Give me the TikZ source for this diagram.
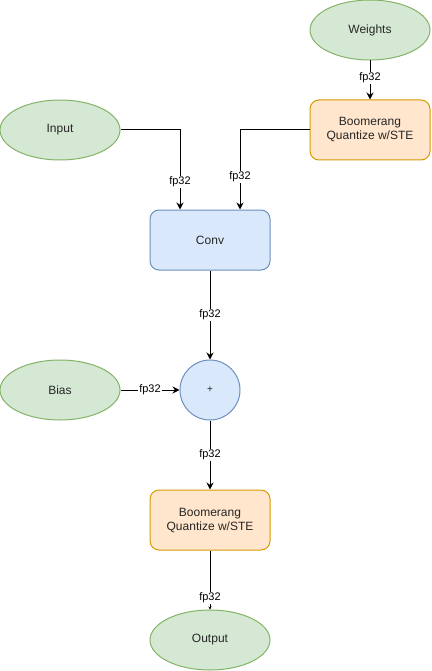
\documentclass[tikz,border=0pt]{standalone}
\usepackage{fontspec}
\setmainfont{Liberation Sans}
\usetikzlibrary{shapes.geometric,arrows.meta}
\definecolor{gfill}{HTML}{D5E8D4}\definecolor{gdraw}{HTML}{82B366}
\definecolor{bfill}{HTML}{DAE8FC}\definecolor{bdraw}{HTML}{6C8EBF}
\definecolor{ofill}{HTML}{FFE6CC}\definecolor{odraw}{HTML}{D79B00}
\begin{document}
\begin{tikzpicture}[x=1pt,y=-1pt,
  every node/.style={font=\fontsize{12}{14}\selectfont, text=black!85},
  ell/.style={ellipse, fill=gfill, draw=gdraw, line width=1pt, minimum width=120pt, minimum height=60pt, inner sep=0pt},
  obox/.style={rectangle, rounded corners=9pt, fill=ofill, draw=odraw, line width=1pt, minimum width=120pt, minimum height=60pt, align=center, inner sep=0pt},
  bbox/.style={rectangle, rounded corners=9pt, fill=bfill, draw=bdraw, line width=1pt, minimum width=120pt, minimum height=60pt, inner sep=0pt},
  circ/.style={circle, fill=bfill, draw=bdraw, line width=1pt, minimum size=60pt, inner sep=0pt},
  conn/.style={line width=1pt, -{Stealth[length=7pt,width=7pt]}},
  lbl/.style={fill=white, font=\fontsize{11}{12}\selectfont, inner sep=1pt, text=black}
]
\useasboundingbox (0,0) rectangle (431,671);
\node[ell] (weights) at (370,30) {Weights};
\node[obox] (bq1) at (370,130) {Boomerang\\Quantize w/STE};
\node[ell] (input) at (60,130) {Input};
\node[bbox] (conv) at (210,240) {Conv};
\node[circ] (plus) at (210,390) {\fontsize{10}{10}\selectfont +};
\node[ell] (bias) at (60,390) {Bias};
\node[obox] (bq2) at (210,520) {Boomerang\\Quantize w/STE};
\node[ell] (output) at (210,640) {Output};

\draw[conn] (weights) -- node[lbl, pos=0.45] {fp32} (bq1);
\draw[conn] (input.east) -| node[lbl, pos=0.825] {fp32} (conv.north -| 180,0);
\draw[conn] (bq1.west) -| node[lbl, pos=0.795] {fp32} (conv.north -| 240,0);
\draw[conn] (conv) -- node[lbl, pos=0.5] {fp32} (plus);
\draw[conn] (bias) -- node[lbl, pos=0.5] {fp32} (plus);
\draw[conn] (plus) -- node[lbl, pos=0.5] {fp32} (bq2);
\draw[line width=1pt, -{Stealth[length=3pt,width=3pt]}] (bq2) -- node[lbl, pos=0.8] {fp32} (output);
\end{tikzpicture}
\end{document}
